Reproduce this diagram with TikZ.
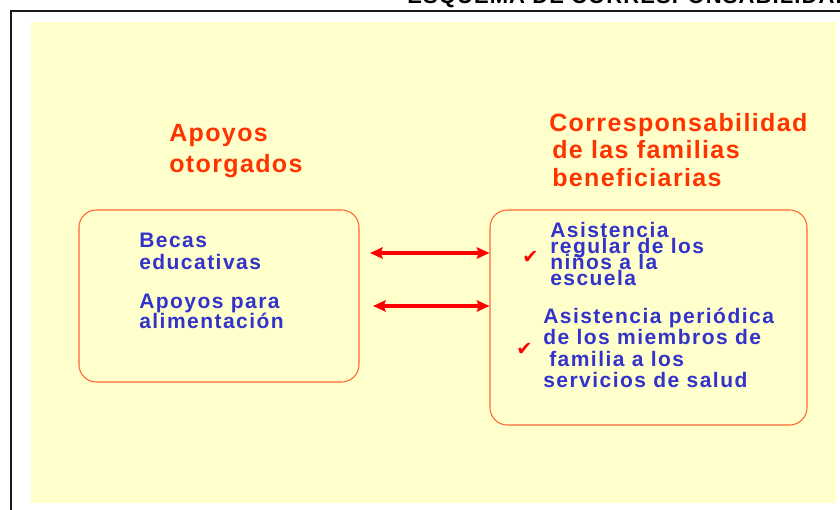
\documentclass[tikz,border=0pt]{standalone}
\usepackage{fontspec}
\setmainfont{Liberation Sans}
\newfontfamily\headfont{Liberation Sans}[LetterSpace=5.5]
\newfontfamily\bodyfont{Liberation Sans}[LetterSpace=7]
\newfontfamily\topfont{Liberation Sans}[LetterSpace=5]
\newfontfamily\checkfont{DejaVu Sans}
\usetikzlibrary{arrows.meta}
\definecolor{bgyellow}{HTML}{FFFFCC}
\definecolor{titlered}{HTML}{FF3300}
\definecolor{textblue}{HTML}{3333CC}
\definecolor{boxline}{HTML}{FF6633}
\definecolor{arrowred}{HTML}{FF0000}
\definecolor{framegray}{HTML}{1A1A1A}
\tikzset{
  line/.style={inner sep=0pt, anchor=base west},
  headline/.style={line, text=titlered, font=\headfont\bfseries\fontsize{18.75pt}{22pt}\selectfont},
  bodyline/.style={line, text=textblue, font=\bodyfont\bfseries\fontsize{15.75pt}{18pt}\selectfont},
  checkline/.style={line, text=arrowred, font=\checkfont\fontsize{14.5pt}{16pt}\selectfont},
  roundbox/.style={draw=boxline, line width=0.8pt, rounded corners=13pt, fill=bgyellow, inner sep=0pt},
  link/.style={draw=arrowred, line width=2.3pt, {Stealth[length=9.5pt,width=8.5pt,inset=1.5pt]}-{Stealth[length=9.5pt,width=8.5pt,inset=1.5pt]}}
}
\begin{document}
\begin{tikzpicture}[x=0.75pt,y=-0.75pt]
\clip (0,0) rectangle (840,510);
\fill[white] (0,0) rectangle (840,510);
% frame
\draw[framegray, line width=1.6pt] (10,11) -- (840,11);
\draw[framegray, line width=1.6pt] (11,11) -- (11,510);
% background
\fill[bgyellow] (31,22) rectangle (836,503);
% top title (cut off)
\node[line, font=\topfont\bfseries\fontsize{16.5pt}{18pt}\selectfont] (toptitle) at (407,4) {ESQUEMA DE CORRESPONSABILIDAD};
% boxes
\node[roundbox, minimum width=210pt, minimum height=129pt] (lbox) at (219,296) {};
\node[roundbox, minimum width=237.75pt, minimum height=161.25pt] (rbox) at (648.5,317.5) {};
% headings
\node[headline] (h1a) at (169,142) {Apoyos};
\node[headline] (h1b) at (169,172) {otorgados};
\node[headline] (h2a) at (549,132) {Corresponsabilidad};
\node[headline] (h2b) at (552,159) {de las familias};
\node[headline] (h2c) at (552,186) {beneficiarias};
% left box text
\node[bodyline] (l1) at (139,247) {Becas};
\node[bodyline] (l2) at (139,269) {educativas};
\node[bodyline] (l3) at (139,308) {Apoyos para};
\node[bodyline] (l4) at (139,328) {alimentación};
% right box text
\node[bodyline] (r1) at (550,237) {Asistencia};
\node[bodyline] (r2) at (550,253) {regular de los};
\node[bodyline] (r3) at (550,269) {niños a la};
\node[bodyline] (r4) at (550,285) {escuela};
\node[bodyline] (r5) at (543,323) {Asistencia periódica};
\node[bodyline] (r6) at (543,344) {de los miembros de};
\node[bodyline] (r7) at (549,366) {familia a los};
\node[bodyline] (r8) at (543,387) {servicios de salud};
\node[checkline] (c1) at (522,263) {✔};
\node[checkline] (c2) at (516,355) {✔};
% arrows
\coordinate (a1) at (370,253);
\coordinate (a2) at (373,306);
\draw[link] (a1) -- (rbox.west |- a1);
\draw[link] (a2) -- (rbox.west |- a2);
\end{tikzpicture}
\end{document}
